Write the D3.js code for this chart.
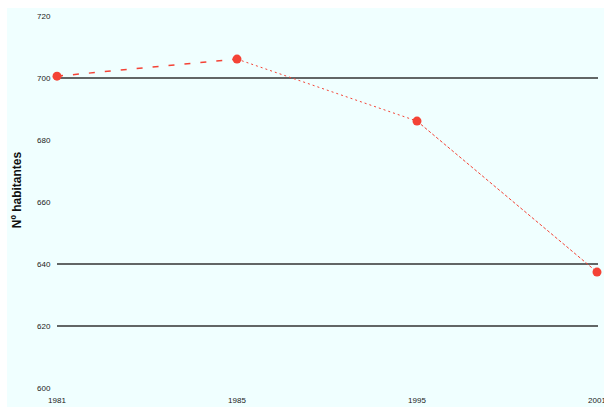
<!DOCTYPE html>
<html>
<head>
<meta charset="utf-8">
<script src="https://cdn.jsdelivr.net/npm/d3@7"></script>
<style>
  body { margin: 0; background: #fff; }
  text { font-family: "Liberation Sans", Arial, sans-serif; }
</style>
</head>
<body>
<div id="chart"></div>
<script>
// data
var years = ["1981", "1985", "1995", "2001"];
var habitantes = [700.6, 706.1, 686.1, 637.4];
var yTicks = [600, 620, 640, 660, 680, 700, 720];
var gridValues = [620, 640, 700];
// one dash style per segment
var segmentDash = ["6,10", "2,3", "3,2"];

var svgWidth = 604;
var svgHeight = 407;

var svg = d3.select("#chart")
  .append("svg")
  .attr("width", svgWidth)
  .attr("height", svgHeight);

// panel background
svg.append("rect")
  .attr("x", 7)
  .attr("y", 8)
  .attr("width", svgWidth - 7)
  .attr("height", svgHeight - 8)
  .attr("fill", "#f0ffff");

var xScale = d3.scalePoint()
  .domain(years)
  .range([57, 597]);

var yScale = d3.scaleLinear()
  .domain([600, 720])
  .range([388, 16]);

// grid lines
svg.append("g").selectAll("line")
  .data(gridValues)
  .enter()
  .append("line")
  .attr("x1", 57)
  .attr("x2", 598)
  .attr("y1", d => yScale(d))
  .attr("y2", d => yScale(d))
  .attr("stroke", "#333")
  .attr("stroke-width", 1.6);

// y tick labels
svg.append("g").selectAll("text")
  .data(yTicks)
  .enter()
  .append("text")
  .attr("x", 37)
  .attr("y", d => yScale(d))
  .attr("dy", "0.35em")
  .attr("font-size", "8px")
  .attr("fill", "#222")
  .text(d => d);

// x tick labels
svg.append("g").selectAll("text")
  .data(years)
  .enter()
  .append("text")
  .attr("x", d => xScale(d))
  .attr("y", 403)
  .attr("text-anchor", "middle")
  .attr("font-size", "8px")
  .attr("fill", "#222")
  .text(d => d);

// y axis title
svg.append("text")
  .attr("transform", "translate(21,190) rotate(-90)")
  .attr("text-anchor", "middle")
  .attr("font-size", "12px")
  .attr("font-weight", "bold")
  .attr("fill", "#111")
  .text("Nº habitantes");

// line segments
var segs = d3.range(years.length - 1);
svg.append("g").selectAll("line")
  .data(segs)
  .enter()
  .append("line")
  .attr("x1", i => xScale(years[i]))
  .attr("y1", i => yScale(habitantes[i]))
  .attr("x2", i => xScale(years[i + 1]))
  .attr("y2", i => yScale(habitantes[i + 1]))
  .attr("stroke", "#f44336")
  .attr("stroke-width", i => i === 0 ? 1.5 : 1)
  .attr("stroke-dasharray", i => segmentDash[i]);

// points
svg.append("g").selectAll("circle")
  .data(habitantes)
  .enter()
  .append("circle")
  .attr("cx", (d, i) => xScale(years[i]))
  .attr("cy", d => yScale(d))
  .attr("r", 4.5)
  .attr("fill", "#f44336");
</script>
</body>
</html>
